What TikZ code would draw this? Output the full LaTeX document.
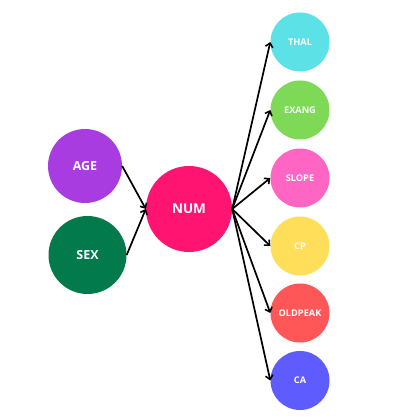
\documentclass[tikz,border=0pt]{standalone}
\usepackage{fontspec}
\setmainfont{Open Sans}
\usetikzlibrary{arrows.meta}
\definecolor{cage}{HTML}{A93CE0}
\definecolor{csex}{HTML}{037A4C}
\definecolor{cnum}{HTML}{FF1472}
\definecolor{cthal}{HTML}{5CE1E6}
\definecolor{cexang}{HTML}{7ED957}
\definecolor{cslope}{HTML}{FF66C4}
\definecolor{ccp}{HTML}{FFDE59}
\definecolor{coldpeak}{HTML}{FF5757}
\definecolor{cca}{HTML}{5E5CFF}
\tikzset{
  bubble/.style={circle,inner sep=0pt,text=white,font=\bfseries},
  bigb/.style={bubble,font=\bfseries\fontsize{12.5}{14}\selectfont},
  smallb/.style={bubble,minimum size=59pt,font=\bfseries\fontsize{9.2}{10}\selectfont},
  link/.style={line width=1.7pt,-{Straight Barb[length=4pt,width=7.5pt,line width=1.6pt]}},
}
\begin{document}
\begin{tikzpicture}[x=1pt,y=1pt]
\useasboundingbox[fill=white] (0,0) rectangle (420,420);
\node[bigb,fill=cage,minimum size=74pt] (age) at (85,254) {AGE};
\node[bigb,fill=csex,minimum size=78pt] (sex) at (87.5,165) {SEX};
\node[bigb,fill=cnum,minimum size=86pt,font=\bfseries\fontsize{13.5}{15}\selectfont] (num) at (189,211) {NUM};
\node[smallb,fill=cthal] (thal) at (300,378) {THAL};
\node[smallb,fill=cexang] (exang) at (300,310) {EXANG};
\node[smallb,fill=cslope] (slope) at (300,242) {SLOPE};
\node[smallb,fill=ccp] (cp) at (300,174) {CP};
\node[smallb,fill=coldpeak] (oldpeak) at (300,107) {OLDPEAK};
\node[smallb,fill=cca] (ca) at (300,39.5) {CA};
\draw[link] (age.east) -- (num.west);
\draw[link] (sex.east) -- (num.west);
\foreach \t in {thal,exang,slope,cp,oldpeak,ca}
  \draw[link] (num.east) -- (\t.west);
\end{tikzpicture}
\end{document}
